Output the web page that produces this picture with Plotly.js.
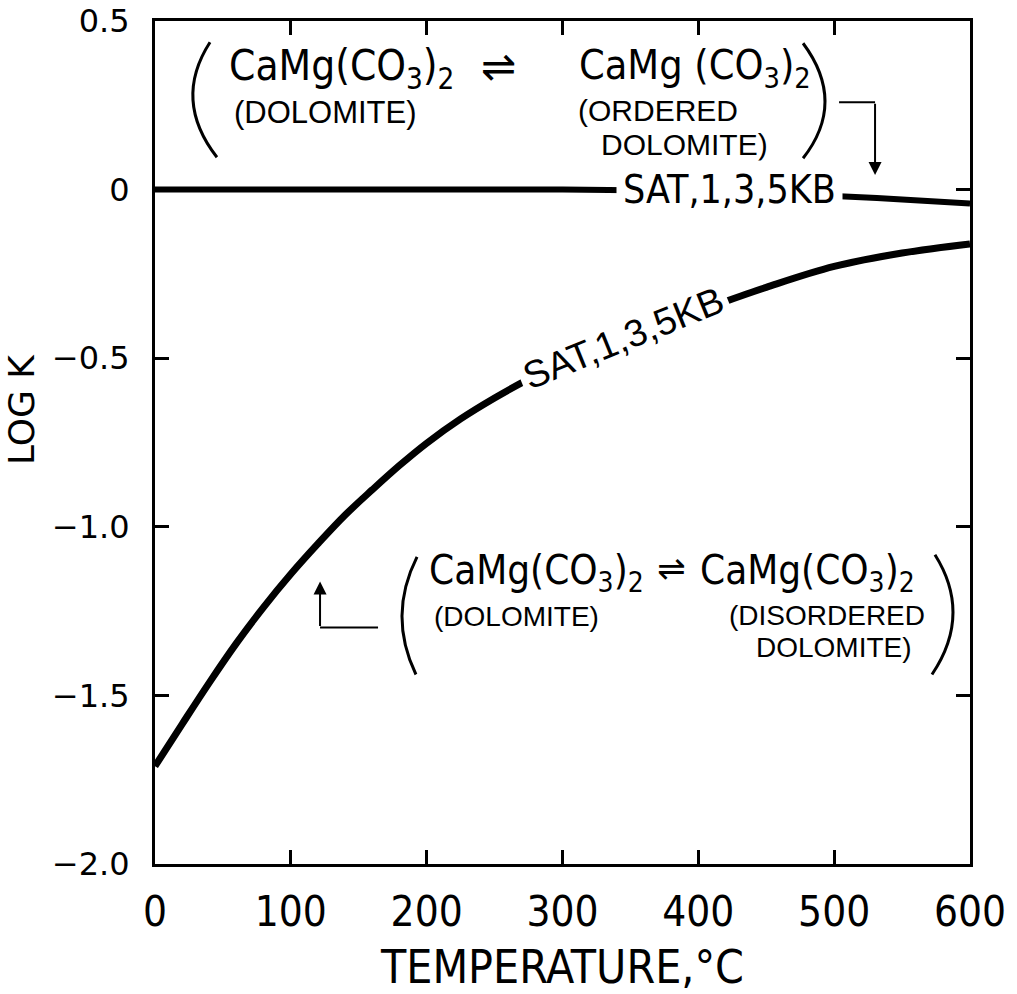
<!DOCTYPE html>
<html>
<head>
<meta charset="utf-8">
<script src="https://cdn.plot.ly/plotly-3.0.1.min.js"></script>
<style>html,body{margin:0;padding:0;background:#fff;}#chart{width:1017px;height:994px;}</style>
</head>
<body>
<div id="chart"></div>
<script>
// ---- data ----
const temperatureOrdered = [0, 100, 200, 300, 350, 400, 450, 500, 550, 600];
const logKOrdered        = [0, 0, 0, 0, -0.002, -0.007, -0.012, -0.019, -0.029, -0.041];

const temperatureDisordered = [0, 20, 40, 60, 80, 100, 120, 140, 160, 180, 200, 225, 250, 275, 300, 350, 400, 450, 500, 550, 600];
const logKDisordered        = [-1.71, -1.585, -1.462, -1.345, -1.238, -1.14, -1.05, -0.965, -0.89, -0.818, -0.752, -0.68, -0.618, -0.562, -0.512, -0.43, -0.36, -0.29, -0.228, -0.188, -0.161];

const xTickVals = [0, 100, 200, 300, 400, 500, 600];
const xTickText = ["0", "100", "200", "300", "400", "500", "600"];
const yTickVals = [-2.0, -1.5, -1.0, -0.5, 0, 0.5];
const yTickText = ["\u22122.0", "\u22121.5", "\u22121.0", "\u22120.5", "0", "0.5"];

const curveLabel = "SAT,1,3,5KB";

// ---- styling ----
const FN = '"Liberation Sans Narrow","DejaVu Sans Condensed","Arial Narrow","Liberation Sans",sans-serif';
const FR = '"Liberation Sans",Arimo,Arial,sans-serif';
const FY = '"DejaVu Sans",sans-serif';

const traces = [
  {x: temperatureOrdered, y: logKOrdered, type: 'scatter', mode: 'lines',
   line: {color: '#000', width: 6, shape: 'spline'}, hoverinfo: 'skip', showlegend: false},
  {x: temperatureDisordered, y: logKDisordered, type: 'scatter', mode: 'lines',
   line: {color: '#000', width: 7, shape: 'spline'}, hoverinfo: 'skip', showlegend: false}
];

function txt(text, x, y, size, fam, xa, ya, extra) {
  return Object.assign({text: text, x: x, y: y, xref: 'x', yref: 'y', showarrow: false,
    xanchor: xa, yanchor: ya, font: {family: fam, size: size, color: '#000'}}, extra || {});
}

const annotations = [
  // top reaction (ordered)
  txt("CaMg(CO<sub>3</sub>)<sub>2</sub>", 53.0, 0.446, 42, FN, 'left', 'top'),
  txt("\u21CC", 253, 0.366, 42, FY, 'center', 'middle'),
  txt("CaMg (CO<sub>3</sub>)<sub>2</sub>", 310.7, 0.446, 41, FN, 'left', 'top'),
  txt("(DOLOMITE)", 57.4, 0.283, 31, FR, 'left', 'top', {borderpad: 0}),
  txt("(ORDERED", 310.7, 0.286, 30, FR, 'left', 'top', {borderpad: 0}),
  txt("DOLOMITE)", 327.6, 0.186, 30, FR, 'left', 'top', {borderpad: 0}),
  // lower reaction (disordered)
  txt("CaMg(CO<sub>3</sub>)<sub>2</sub>", 200.2, -1.053, 40, FN, 'left', 'top'),
  txt("\u21CC", 380.6, -1.121, 34, FY, 'center', 'middle'),
  txt("CaMg(CO<sub>3</sub>)<sub>2</sub>", 399.8, -1.053, 40, FN, 'left', 'top'),
  txt("(DOLOMITE)", 204.7, -1.217, 28, FR, 'left', 'top', {borderpad: 0}),
  txt("(DISORDERED", 421.9, -1.215, 28, FR, 'left', 'top', {borderpad: 0}),
  txt("DOLOMITE)", 441.7, -1.309, 28, FR, 'left', 'top', {borderpad: 0}),
  // curve labels (white box masks the line)
  txt(curveLabel, 422.6, 0, 39, FN, 'center', 'middle', {bgcolor: '#fff', borderpad: 6}),
  txt(curveLabel, 345, -0.44, 38, FR, 'center', 'middle', {bgcolor: '#fff', borderpad: 4, textangle: -22}),
  // elbow-arrow heads
  {x: 530.1, y: 0.043, ax: 530.1, ay: 0.259, axref: 'x', ayref: 'y', xref: 'x', yref: 'y', text: '',
   showarrow: true, arrowhead: 2, arrowsize: 1.3, arrowwidth: 2, arrowcolor: '#000', standoff: 0},
  {x: 121.5, y: -1.162, ax: 121.5, ay: -1.299, axref: 'x', ayref: 'y', xref: 'x', yref: 'y', text: '',
   showarrow: true, arrowhead: 2, arrowsize: 1.3, arrowwidth: 2, arrowcolor: '#000', standoff: 0},
  // y-axis title
  {text: "LOG K", x: -0.163, y: 0.5386, xref: 'paper', yref: 'paper', showarrow: false, textangle: -90,
   xanchor: 'center', yanchor: 'middle', font: {family: FY, size: 36, color: '#000'}}
];

const shapes = [
  // brackets
  {type: 'path', xref: 'x', yref: 'y', path: 'M40.5,0.437 Q12.9,0.265 45.6,0.096', line: {color: '#000', width: 3}},
  {type: 'path', xref: 'x', yref: 'y', path: 'M477.1,0.434 Q509.4,0.259 477.1,0.093', line: {color: '#000', width: 3}},
  {type: 'path', xref: 'x', yref: 'y', path: 'M192.9,-1.089 Q171.2,-1.263 192.1,-1.438', line: {color: '#000', width: 3}},
  {type: 'path', xref: 'x', yref: 'y', path: 'M574.2,-1.083 Q601.8,-1.260 572.0,-1.438', line: {color: '#000', width: 3}},
  // horizontal legs of the elbow arrows
  {type: 'line', xref: 'x', yref: 'y', x0: 503.6, y0: 0.259, x1: 530.1, y1: 0.259, line: {color: '#000', width: 2}},
  {type: 'line', xref: 'x', yref: 'y', x0: 164.2, y0: -1.299, x1: 121.5, y1: -1.299, line: {color: '#000', width: 2}}
];

const layout = {
  width: 1017, height: 994,
  margin: {l: 155, r: 47, t: 21, b: 130, pad: 0},
  paper_bgcolor: '#fff', plot_bgcolor: '#fff',
  showlegend: false,
  xaxis: {
    range: [0, 600], tickmode: 'array', tickvals: xTickVals, ticktext: xTickText,
    showgrid: false, zeroline: false, showline: true, mirror: 'ticks', linecolor: '#000', linewidth: 3,
    ticks: 'inside', ticklen: 14, tickwidth: 3, tickcolor: '#000', ticklabelstandoff: 9,
    tickfont: {family: FN, size: 42, color: '#000'},
    title: {text: "TEMPERATURE,\u00B0C", font: {family: FN, size: 46, color: '#000'}, standoff: 20},
    automargin: false, fixedrange: true
  },
  yaxis: {
    range: [-2.0, 0.5], tickmode: 'array', tickvals: yTickVals, ticktext: yTickText,
    showgrid: false, zeroline: false, showline: true, mirror: 'ticks', linecolor: '#000', linewidth: 3,
    ticks: 'inside', ticklen: 14, tickwidth: 3, tickcolor: '#000', ticklabelstandoff: 16,
    tickfont: {family: FY, size: 32, color: '#000'},
    automargin: false, fixedrange: true
  },
  annotations: annotations,
  shapes: shapes
};

Plotly.newPlot('chart', traces, layout, {staticPlot: true, displayModeBar: false});
</script>
</body>
</html>
